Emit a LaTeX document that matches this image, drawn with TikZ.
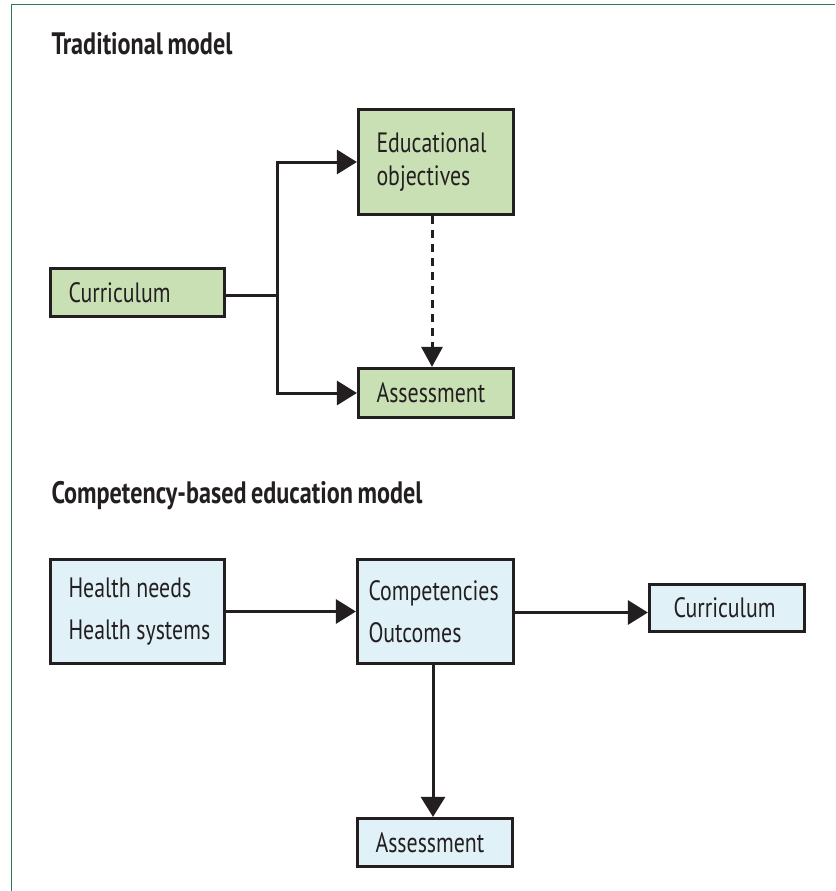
\documentclass[tikz,border=0pt]{standalone}
\usepackage{fontspec}
\setmainfont{PT Sans}[FakeStretch=0.78,WordSpace=0.75]
\usetikzlibrary{arrows.meta,calc}
\definecolor{ink}{HTML}{231F20}
\definecolor{gfill}{HTML}{C9E0B5}
\definecolor{bfill}{HTML}{E0F1F7}
\definecolor{frame}{HTML}{2E7D52}
\begin{document}
\begin{tikzpicture}[x=1pt,y=-1pt,
  pad/.style={execute at begin node={\leftskip=#1\hyphenpenalty=10000\spaceskip=0.2em\relax}},
  box/.style={draw=ink,line width=3.2pt,rectangle,inner xsep=6pt,inner ysep=0pt,
    align=left,text=ink,font=\fontsize{28}{33}\selectfont,pad=12pt},
  gbox/.style={box,fill=gfill},
  bbox/.style={box,fill=bfill,font=\fontsize{28}{42}\selectfont},
  conn/.style={draw=ink,line width=3pt},
  arr/.style={conn,-{Triangle[length=20pt,width=24pt]}},
  ttl/.style={anchor=base west,text=ink,font=\fontsize{31}{36}\selectfont\bfseries}]
\useasboundingbox (0,0) rectangle (835,891);
\draw[frame,line width=1.5pt] (11.5,891) -- (11.5,4.5) -- (835,4.5);
\node[ttl] (t1) at (48,55) {Traditional model};
\node[ttl] (t2) at (48,503) {Competency-based education model};
% traditional
\node[gbox,minimum width=174pt,minimum height=48pt,text width=162pt] (tcur) at (137.5,292.5) {Curriculum};
\node[gbox,minimum width=155pt,minimum height=105pt,text width=143pt] (edobj) at (436,162) {Educational\\objectives};
\node[gbox,minimum width=155pt,minimum height=49pt,text width=143pt] (tass) at (436,393) {Assessment};
\coordinate (br) at (277,295);
\draw[conn] (tcur.east |- br) -- (br);
\draw[arr] (br) |- (edobj.west);
\draw[arr] (br) |- (tass.west);
\draw[conn,dashed,dash pattern=on 8pt off 6pt,-{Triangle[length=20pt,width=21pt]}] ($(edobj.south)+(-4,0)$) -- ($(tass.north)+(-4,0)$);
% competency-based
\node[bbox,minimum width=174pt,minimum height=104pt,text width=162pt] (hn) at (137.5,611.5) {Health needs\\Health systems};
\node[bbox,minimum width=156pt,minimum height=104pt,text width=144pt,pad=5pt] (comp) at (435.5,611.5) {Competencies\\Outcomes};
\node[bbox,minimum width=155pt,minimum height=47pt,text width=143pt,pad=18pt] (ccur) at (727,608) {Curriculum};
\node[bbox,minimum width=155pt,minimum height=48pt,text width=143pt] (cass) at (435,842.5) {Assessment};
\draw[arr] (hn.east) -- (comp.west);
\draw[arr] ($(comp.east)+(0,1)$) -- ($(comp.east -| ccur.west)+(0,1)$);
\draw[arr] ($(comp.south)+(-2.5,0)$) -- ($(cass.north)+(-2,0)$);
\end{tikzpicture}
\end{document}
